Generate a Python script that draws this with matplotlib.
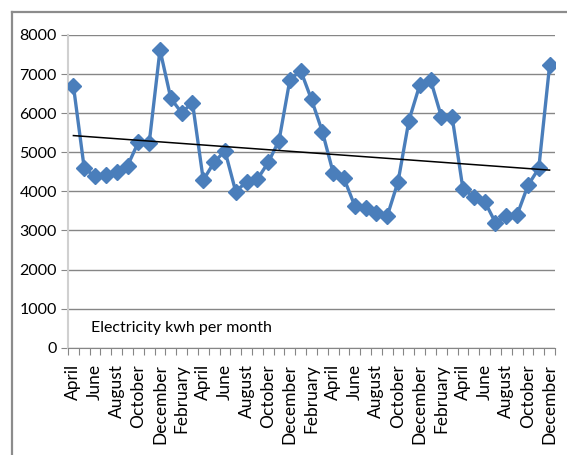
import numpy as np
import matplotlib
matplotlib.use("Agg")
import matplotlib.pyplot as plt
from matplotlib.lines import Line2D

plt.rcParams['font.family'] = ['Lato', 'DejaVu Sans']

# monthly use, April (year 1) to December (year 4)
month_names = ["January", "February", "March", "April", "May", "June", "July",
               "August", "September", "October", "November", "December"]
kwh = [6700, 4590, 4380, 4420, 4500, 4650, 5260, 5230, 7620, 6380, 6010, 6270,
       4290, 4740, 5040, 3990, 4250, 4310, 4740, 5300, 6850, 7090, 6350, 5530,
       4480, 4330, 3630, 3570, 3440, 3370, 4250, 5810, 6720, 6850, 5910, 5895,
       4050, 3865, 3740, 3200, 3370, 3400, 4150, 4590, 7220]
labels = [month_names[(3 + i) % 12] for i in range(len(kwh))]
caption = "Electricity kwh per month"

x = np.arange(len(kwh))
slope, icpt = np.polyfit(x, kwh, 1)

fig = plt.figure(figsize=(5.67, 4.55), dpi=100)
ax = fig.add_axes([68 / 567, 1 - 347.7 / 455, (555 - 68) / 567, (347.7 - 35) / 455])

ax.plot(x, kwh, color="#4a7ebb", lw=2.4, marker="D", ms=8.5, zorder=3)
ax.plot([x[0], x[-1]], [icpt, icpt + slope * x[-1]], color="black", lw=1.1, zorder=4)

ax.set_xlim(-0.5, len(kwh) - 0.5)
ax.set_ylim(0, 8000)
ax.set_yticks(range(0, 8001, 1000))
ax.yaxis.grid(True, color="#868686", lw=1.0)
ax.set_axisbelow(True)
ax.tick_params(axis="y", length=5, color="#868686", labelsize=11.5, pad=3)

ax.set_xticks(np.arange(-0.5, len(kwh), 1))
ax.set_xticklabels([])
ax.set_xticks(x[::2], minor=True)
ax.set_xticklabels(labels[::2], minor=True, rotation=90, fontsize=12.5)
ax.tick_params(axis="x", which="major", length=5, color="#868686")
ax.tick_params(axis="x", which="minor", length=0, pad=12)

for s in ["top", "right"]:
    ax.spines[s].set_visible(False)
ax.spines["left"].set_color("#d0d0d0")
ax.spines["left"].set_linewidth(1.5)
ax.spines["bottom"].set_color("#868686")

ax.text(1.6, 400, caption, fontsize=11.5)

# outer chart frame (cropped at right and bottom)
fig.add_artist(Line2D([12 / 567, 1], [1 - 12 / 455] * 2, color="#8c8c8c", lw=1.6))
fig.add_artist(Line2D([12 / 567] * 2, [0, 1 - 12 / 455], color="#8c8c8c", lw=1.6))

fig.savefig("out.png", dpi=100)
